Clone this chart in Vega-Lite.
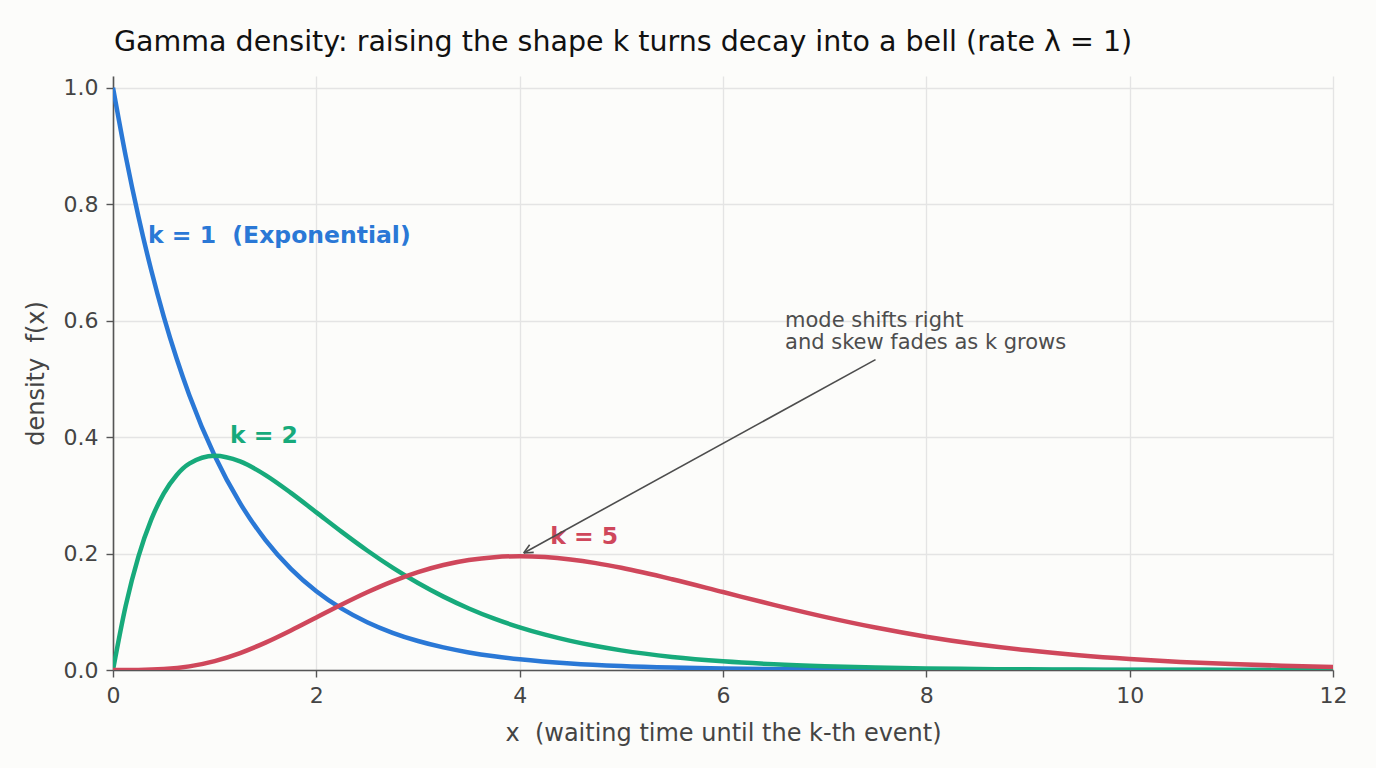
{
  "$schema": "https://vega.github.io/schema/vega-lite/v6.json",
  "width": 1220,
  "height": 594,
  "autosize": {"type": "none"},
  "padding": {"left": 113, "top": 76, "right": 43, "bottom": 98},
  "background": "#fcfcfa",
  "title": {"text": "Gamma density: raising the shape k turns decay into a bell (rate λ = 1)", "anchor": "start", "frame": "group", "font": "DejaVu Sans", "fontSize": 28.5, "fontWeight": "normal", "color": "#111111", "offset": 20, "dx": 1},
  "config": {
    "view": {"stroke": null},
    "font": "DejaVu Sans",
    "axis": {"gridColor": "#e4e4e4", "gridWidth": 1.3, "domainColor": "#555555", "domainWidth": 1.6, "tickColor": "#555555", "tickSize": 7, "tickWidth": 1.4, "labelFont": "DejaVu Sans", "labelFontSize": 22, "labelColor": "#444444", "titleFont": "DejaVu Sans", "titleFontSize": 24, "titleColor": "#444444", "titleFontWeight": "normal", "labelFlush": false}
  },
  "datasets": {
    "curves": [
      {"k": "k = 1", "x": 0, "y": 1},
      {"k": "k = 1", "x": 0.125, "y": 0.882497},
      {"k": "k = 1", "x": 0.25, "y": 0.778801},
      {"k": "k = 1", "x": 0.375, "y": 0.687289},
      {"k": "k = 1", "x": 0.5, "y": 0.606531},
      {"k": "k = 1", "x": 0.625, "y": 0.535261},
      {"k": "k = 1", "x": 0.75, "y": 0.472367},
      {"k": "k = 1", "x": 1, "y": 0.367879},
      {"k": "k = 1", "x": 1.25, "y": 0.286505},
      {"k": "k = 1", "x": 1.5, "y": 0.22313},
      {"k": "k = 1", "x": 1.75, "y": 0.173774},
      {"k": "k = 1", "x": 2, "y": 0.135335},
      {"k": "k = 1", "x": 2.25, "y": 0.105399},
      {"k": "k = 1", "x": 2.5, "y": 0.082085},
      {"k": "k = 1", "x": 2.75, "y": 0.063928},
      {"k": "k = 1", "x": 3, "y": 0.049787},
      {"k": "k = 1", "x": 3.25, "y": 0.038774},
      {"k": "k = 1", "x": 3.5, "y": 0.030197},
      {"k": "k = 1", "x": 3.75, "y": 0.023518},
      {"k": "k = 1", "x": 4, "y": 0.018316},
      {"k": "k = 1", "x": 4.5, "y": 0.011109},
      {"k": "k = 1", "x": 5, "y": 0.006738},
      {"k": "k = 1", "x": 5.5, "y": 0.004087},
      {"k": "k = 1", "x": 6, "y": 0.002479},
      {"k": "k = 1", "x": 6.5, "y": 0.001503},
      {"k": "k = 1", "x": 7, "y": 0.000912},
      {"k": "k = 1", "x": 7.5, "y": 0.000553},
      {"k": "k = 1", "x": 8, "y": 0.000335},
      {"k": "k = 1", "x": 9, "y": 0.000123},
      {"k": "k = 1", "x": 10, "y": 0.0000454},
      {"k": "k = 1", "x": 11, "y": 0.0000167},
      {"k": "k = 1", "x": 12, "y": 0.0000061},
      {"k": "k = 2", "x": 0, "y": 0},
      {"k": "k = 2", "x": 0.125, "y": 0.110312},
      {"k": "k = 2", "x": 0.25, "y": 0.1947},
      {"k": "k = 2", "x": 0.375, "y": 0.257733},
      {"k": "k = 2", "x": 0.5, "y": 0.303265},
      {"k": "k = 2", "x": 0.625, "y": 0.334538},
      {"k": "k = 2", "x": 0.75, "y": 0.354275},
      {"k": "k = 2", "x": 1, "y": 0.367879},
      {"k": "k = 2", "x": 1.25, "y": 0.358131},
      {"k": "k = 2", "x": 1.5, "y": 0.334695},
      {"k": "k = 2", "x": 1.75, "y": 0.304105},
      {"k": "k = 2", "x": 2, "y": 0.270671},
      {"k": "k = 2", "x": 2.25, "y": 0.237148},
      {"k": "k = 2", "x": 2.5, "y": 0.205212},
      {"k": "k = 2", "x": 2.75, "y": 0.175802},
      {"k": "k = 2", "x": 3, "y": 0.149361},
      {"k": "k = 2", "x": 3.25, "y": 0.126016},
      {"k": "k = 2", "x": 3.5, "y": 0.10569},
      {"k": "k = 2", "x": 3.75, "y": 0.088193},
      {"k": "k = 2", "x": 4, "y": 0.073263},
      {"k": "k = 2", "x": 4.25, "y": 0.060622},
      {"k": "k = 2", "x": 4.5, "y": 0.049991},
      {"k": "k = 2", "x": 4.75, "y": 0.041097},
      {"k": "k = 2", "x": 5, "y": 0.03369},
      {"k": "k = 2", "x": 5.5, "y": 0.022479},
      {"k": "k = 2", "x": 6, "y": 0.014873},
      {"k": "k = 2", "x": 6.5, "y": 0.009772},
      {"k": "k = 2", "x": 7, "y": 0.006383},
      {"k": "k = 2", "x": 7.5, "y": 0.004148},
      {"k": "k = 2", "x": 8, "y": 0.002684},
      {"k": "k = 2", "x": 8.5, "y": 0.001729},
      {"k": "k = 2", "x": 9, "y": 0.001111},
      {"k": "k = 2", "x": 9.5, "y": 0.000711},
      {"k": "k = 2", "x": 10, "y": 0.000454},
      {"k": "k = 2", "x": 10.5, "y": 0.000289},
      {"k": "k = 2", "x": 11, "y": 0.000184},
      {"k": "k = 2", "x": 11.5, "y": 0.000116},
      {"k": "k = 2", "x": 12, "y": 0.0000737},
      {"k": "k = 5", "x": 0, "y": 0},
      {"k": "k = 5", "x": 0.25, "y": 0.000127},
      {"k": "k = 5", "x": 0.5, "y": 0.00158},
      {"k": "k = 5", "x": 0.75, "y": 0.006228},
      {"k": "k = 5", "x": 1, "y": 0.015328},
      {"k": "k = 5", "x": 1.25, "y": 0.029145},
      {"k": "k = 5", "x": 1.5, "y": 0.047067},
      {"k": "k = 5", "x": 1.75, "y": 0.067909},
      {"k": "k = 5", "x": 2, "y": 0.090224},
      {"k": "k = 5", "x": 2.25, "y": 0.112553},
      {"k": "k = 5", "x": 2.5, "y": 0.133602},
      {"k": "k = 5", "x": 2.75, "y": 0.152339},
      {"k": "k = 5", "x": 3, "y": 0.168031},
      {"k": "k = 5", "x": 3.25, "y": 0.180245},
      {"k": "k = 5", "x": 3.5, "y": 0.18881},
      {"k": "k = 5", "x": 3.75, "y": 0.193781},
      {"k": "k = 5", "x": 4, "y": 0.195367},
      {"k": "k = 5", "x": 4.25, "y": 0.193903},
      {"k": "k = 5", "x": 4.5, "y": 0.189808},
      {"k": "k = 5", "x": 4.75, "y": 0.183519},
      {"k": "k = 5", "x": 5, "y": 0.175467},
      {"k": "k = 5", "x": 5.5, "y": 0.155819},
      {"k": "k = 5", "x": 6, "y": 0.133853},
      {"k": "k = 5", "x": 6.5, "y": 0.111823},
      {"k": "k = 5", "x": 7, "y": 0.091226},
      {"k": "k = 5", "x": 7.5, "y": 0.072916},
      {"k": "k = 5", "x": 8, "y": 0.057252},
      {"k": "k = 5", "x": 8.5, "y": 0.044255},
      {"k": "k = 5", "x": 9, "y": 0.033737},
      {"k": "k = 5", "x": 9.5, "y": 0.025403},
      {"k": "k = 5", "x": 10, "y": 0.018917},
      {"k": "k = 5", "x": 10.5, "y": 0.013946},
      {"k": "k = 5", "x": 11, "y": 0.010189},
      {"k": "k = 5", "x": 11.5, "y": 0.007382},
      {"k": "k = 5", "x": 12, "y": 0.005309}
    ],
    "labels": [
      {"k": "k = 1", "x": 0.344, "y": 0.734, "label": "k = 1 \u00a0(Exponential)"},
      {"k": "k = 2", "x": 1.15, "y": 0.39, "label": "k = 2"},
      {"k": "k = 5", "x": 4.3, "y": 0.2165, "label": "k = 5"}
    ],
    "arrow": [
      {"x": 7.5, "y": 0.533, "x2": 4.04, "y2": 0.201},
      {"x": 4.04, "y": 0.201, "x2": 4.138, "y2": 0.202},
      {"x": 4.04, "y": 0.201, "x2": 4.098, "y2": 0.215}
    ],
    "note": [
      {"x": 6.61, "y": 0.589, "label": "mode shifts right\nand skew fades as k grows"}
    ]
  },
  "layer": [
    {
      "data": {"name": "curves"},
      "mark": {"type": "line", "strokeWidth": 4.5, "interpolate": "monotone", "clip": true},
      "encoding": {
        "x": {"field": "x", "type": "quantitative", "scale": {"domain": [0, 12], "nice": false, "zero": false}, "axis": {"values": [0, 2, 4, 6, 8, 10, 12], "title": "x \u00a0(waiting time until the k-th event)", "titlePadding": 15, "labelPadding": 8, "format": "d"}},
        "y": {"field": "y", "type": "quantitative", "scale": {"domain": [0, 1.02], "nice": false}, "axis": {"values": [0, 0.2, 0.4, 0.6, 0.8, 1.0], "format": ".1f", "title": "density \u00a0f(x)", "titlePadding": 15, "labelPadding": 8}},
        "color": {"field": "k", "type": "nominal", "scale": {"domain": ["k = 1", "k = 2", "k = 5"], "range": ["#2a78d6", "#17aa7b", "#cf475b"]}, "legend": null},
        "detail": {"field": "k"}
      }
    },
    {
      "data": {"name": "labels"},
      "mark": {"type": "text", "align": "left", "baseline": "alphabetic", "fontWeight": "bold", "fontSize": 23.5, "font": "DejaVu Sans"},
      "encoding": {
        "x": {"field": "x", "type": "quantitative"},
        "y": {"field": "y", "type": "quantitative"},
        "text": {"field": "label"},
        "color": {"field": "k", "type": "nominal", "legend": null}
      }
    },
    {
      "data": {"name": "arrow"},
      "mark": {"type": "rule", "color": "#4d4d4d", "strokeWidth": 1.6},
      "encoding": {
        "x": {"field": "x", "type": "quantitative"},
        "y": {"field": "y", "type": "quantitative"},
        "x2": {"field": "x2"},
        "y2": {"field": "y2"}
      }
    },
    {
      "data": {"name": "note"},
      "mark": {"type": "text", "align": "left", "baseline": "alphabetic", "fontSize": 21, "font": "DejaVu Sans", "color": "#4d4d4d", "lineBreak": "\n", "lineHeight": 22.5},
      "encoding": {
        "x": {"field": "x", "type": "quantitative"},
        "y": {"field": "y", "type": "quantitative"},
        "text": {"field": "label"}
      }
    }
  ]
}
